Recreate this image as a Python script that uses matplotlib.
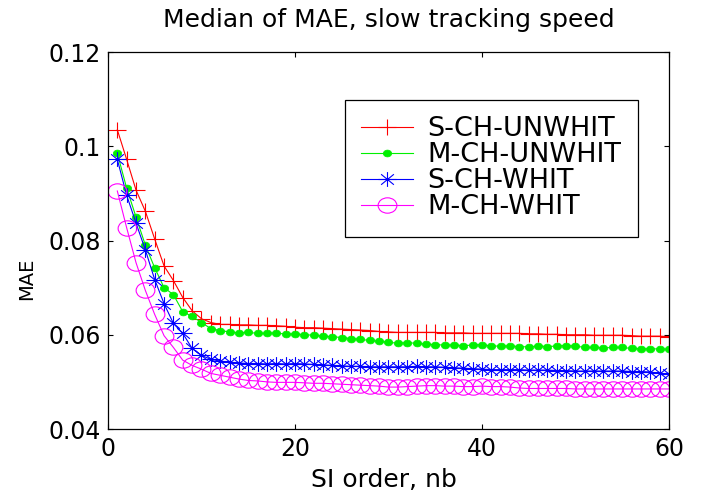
import numpy as np
import matplotlib.pyplot as plt
from matplotlib.path import Path

plt.rcParams['font.family'] = ['DejaVu Sans']

# SI order nb
order = np.arange(1, 61)

# median MAE per method
s_ch_unwhit = [0.1035, 0.0972, 0.0907, 0.0862, 0.0803, 0.0746, 0.0715, 0.0679, 0.0651, 0.0634,
               0.0626, 0.0622, 0.0622, 0.0621, 0.0621, 0.0620, 0.0620, 0.0619, 0.0618, 0.0616,
               0.0615, 0.0615, 0.0614, 0.0613, 0.0612, 0.0611, 0.0610, 0.0609, 0.0607, 0.0606,
               0.0605, 0.0605, 0.0605, 0.0605, 0.0605, 0.0604, 0.0604, 0.0604, 0.0603, 0.0603,
               0.0603, 0.0603, 0.0603, 0.0603, 0.0602, 0.0602, 0.0601, 0.0601, 0.0600, 0.0600,
               0.0600, 0.0599, 0.0599, 0.0599, 0.0599, 0.0598, 0.0597, 0.0597, 0.0597, 0.0596]
m_ch_unwhit = [0.0985, 0.0911, 0.0850, 0.0790, 0.0742, 0.0700, 0.0685, 0.0649, 0.0639, 0.0626,
               0.0613, 0.0609, 0.0606, 0.0604, 0.0605, 0.0603, 0.0603, 0.0604, 0.0601, 0.0602,
               0.0600, 0.0599, 0.0597, 0.0596, 0.0594, 0.0592, 0.0590, 0.0588, 0.0586, 0.0584,
               0.0582, 0.0583, 0.0582, 0.0580, 0.0579, 0.0578, 0.0578, 0.0577, 0.0578, 0.0579,
               0.0576, 0.0576, 0.0576, 0.0575, 0.0574, 0.0576, 0.0575, 0.0576, 0.0577, 0.0576,
               0.0573, 0.0573, 0.0572, 0.0573, 0.0573, 0.0571, 0.0570, 0.0570, 0.0570, 0.0569]
s_ch_whit = [0.0972, 0.0896, 0.0837, 0.0780, 0.0717, 0.0666, 0.0624, 0.0603, 0.0571, 0.0556,
             0.0548, 0.0544, 0.0542, 0.0540, 0.0539, 0.0539, 0.0538, 0.0539, 0.0538, 0.0539,
             0.0538, 0.0537, 0.0536, 0.0535, 0.0534, 0.0533, 0.0533, 0.0532, 0.0532, 0.0532,
             0.0532, 0.0532, 0.0533, 0.0532, 0.0532, 0.0531, 0.0530, 0.0529, 0.0528, 0.0527,
             0.0526, 0.0526, 0.0526, 0.0526, 0.0525, 0.0525, 0.0525, 0.0524, 0.0524, 0.0523,
             0.0523, 0.0523, 0.0523, 0.0523, 0.0523, 0.0522, 0.0522, 0.0521, 0.0518, 0.0516]
m_ch_whit = [0.0905, 0.0827, 0.0753, 0.0694, 0.0643, 0.0598, 0.0573, 0.0546, 0.0535, 0.0527,
             0.0518, 0.0514, 0.0510, 0.0506, 0.0503, 0.0502, 0.0500, 0.0499, 0.0499, 0.0499,
             0.0498, 0.0497, 0.0497, 0.0496, 0.0495, 0.0494, 0.0493, 0.0492, 0.0491, 0.0489,
             0.0489, 0.0490, 0.0491, 0.0492, 0.0492, 0.0491, 0.0491, 0.0490, 0.0490, 0.0491,
             0.0490, 0.0490, 0.0489, 0.0487, 0.0486, 0.0486, 0.0486, 0.0486, 0.0486, 0.0485,
             0.0485, 0.0485, 0.0485, 0.0485, 0.0485, 0.0485, 0.0485, 0.0485, 0.0485, 0.0485]

# the reference looks stretched sideways, so the markers are a bit wider than tall
SX = 1.22
M, L = Path.MOVETO, Path.LINETO
plus_mk = Path([(-SX, 0), (SX, 0), (0, -1), (0, 1)], [M, L, M, L])
d = np.sqrt(0.5)
star_mk = Path([(-SX, 0), (SX, 0), (0, -1), (0, 1),
                (-SX * d, -d), (SX * d, d), (-SX * d, d), (SX * d, -d)],
               [M, L, M, L, M, L, M, L])
circ = Path.unit_circle()
ell_mk = Path(circ.vertices * [SX, 1], circ.codes)

fig = plt.figure(figsize=(7.02, 5.03), dpi=100)
ax = fig.add_axes([0.1538, 0.1471, 0.7991, 0.7495])

ax.plot(order, s_ch_unwhit, color='#ff0000', marker=plus_mk, ms=13.5, mew=0.8,
        mfc='none', lw=0.8, label='S-CH-UNWHIT')
ax.plot(order, m_ch_unwhit, color='#00f000', marker=ell_mk, ms=6, mew=0.5,
        lw=0.8, label='M-CH-UNWHIT')
ax.plot(order, s_ch_whit, color='#0000ff', marker=star_mk, ms=13, mew=0.8,
        mfc='none', lw=0.8, label='S-CH-WHIT')
ax.plot(order, m_ch_whit, color='#ff00ff', marker=ell_mk, ms=13.5, mew=0.8,
        mfc='none', lw=0.8, label='M-CH-WHIT')

ax.set_xlim(0, 60)
ax.set_ylim(0.04, 0.12)
ax.set_xticks([0, 20, 40, 60])
ax.set_yticks([0.04, 0.06, 0.08, 0.1, 0.12])
ax.set_yticklabels(['0.04', '0.06', '0.08', '0.1', '0.12'])
ax.tick_params(direction='in', top=True, right=True, labelsize=17, length=3.5, width=0.8)
ax.tick_params(axis='x', pad=6)
ax.tick_params(axis='y', pad=5)
for sp in ax.spines.values():
    sp.set_linewidth(0.9)

ax.set_xlabel('SI order, nb', fontsize=18)
ax.xaxis.set_label_coords(0.492, -0.104)
ax.set_ylabel('MAE', fontsize=14)
ax.yaxis.set_label_coords(-0.128, 0.398)
ax.set_title('Median of MAE, slow tracking speed', fontsize=18, pad=18)

leg = ax.legend(loc='upper left', bbox_to_anchor=(345 / 702, 1 - 100 / 503),
                bbox_transform=fig.transFigure, borderaxespad=0, fontsize=19.5,
                fancybox=False, edgecolor='black', framealpha=1,
                handlelength=1.9, handletextpad=0.55, labelspacing=0.0,
                borderpad=0.6)
leg.get_frame().set_linewidth(0.9)

fig.savefig('out.png', dpi=100)
